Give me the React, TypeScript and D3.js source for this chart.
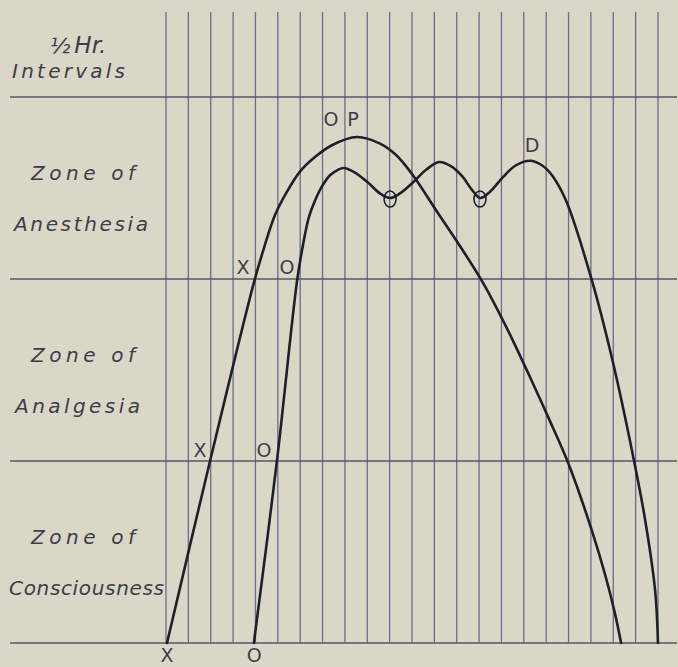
import React, { useEffect } from "react";
import * as d3 from "d3";

const WIDTH = 678;
const HEIGHT = 667;

// half-hour interval lines (index along the time axis)
const intervals = [0, 1, 2, 3, 4, 5, 6, 7, 8, 9, 10, 11, 12, 13, 14, 15, 16, 17, 18, 19, 20, 21, 22];
// zone boundaries: 0 = bottom of consciousness, 3 = top of anesthesia
const zoneLevels = [0, 1, 2, 3];

const zoneNames = [
  { top: 3, lines: ["Zone of", "Anesthesia"] },
  { top: 2, lines: ["Zone of", "Analgesia"] },
  { top: 1, lines: ["Zone of", "Consciousness"] },
];

// curve "X ... OP" : [interval, zone level]
const curveX: [number, number][] = [
  [0.045, 0], [1.97, 1.0], [3.93, 1.98], [4.38, 2.17], [4.87, 2.35], [5.41, 2.48],
  [5.99, 2.59], [6.66, 2.67], [7.42, 2.735], [8.54, 2.78], [9.55, 2.745],
  [10.3, 2.68], [11.04, 2.57], [12.12, 2.37], [13.15, 2.18], [14.17, 1.98],
  [15.2, 1.74], [16.28, 1.46], [17.13, 1.23], [17.98, 0.99], [19.09, 0.6],
  [19.67, 0.36], [20.08, 0.16], [20.35, 0],
];

// curve "O ... D"
const curveO: [number, number][] = [
  [3.93, 0], [4.96, 1.0], [5.86, 1.99], [6.13, 2.19], [6.39, 2.34], [6.66, 2.43],
  [6.98, 2.51], [7.33, 2.57], [7.69, 2.6], [7.95, 2.61], [8.45, 2.585], [9.03, 2.53],
  [9.57, 2.47], [10.02, 2.445], [10.46, 2.47], [11.04, 2.53], [11.63, 2.6],
  [12.21, 2.643], [12.74, 2.62], [13.24, 2.565], [13.68, 2.49], [14.04, 2.445],
  [14.49, 2.48], [15.07, 2.56], [15.65, 2.625], [16.28, 2.65], [16.81, 2.625],
  [17.26, 2.57], [17.89, 2.43], [19.05, 1.99], [19.99, 1.54], [20.93, 1.0],
  [21.42, 0.68], [21.87, 0.29], [22.0, 0],
];

// theta marks on the O curve
const thetaMarks: [number, number][] = [[10.02, 2.445], [14.04, 2.445]];

// letters along the curves: text, interval, level (baseline)
const pointLabels: [string, number, number][] = [
  ["X", 3.44, 2.03], ["O", 5.41, 2.03],
  ["X", 1.52, 1.02], ["O", 4.38, 1.02],
  ["X", 0.04, -0.105], ["O", 3.94, -0.105],
  ["O", 7.38, 2.84], ["P", 8.36, 2.84],
  ["D", 16.37, 2.7],
];

const labelFont = "'DejaVu Sans', sans-serif";
const textLen: Record<string, [number, number]> = {
  "Zone of": [31, 104],
  Anesthesia: [14, 134],
  Analgesia: [15, 125],
  Consciousness: [9, 155],
};

export default function App() {
  useEffect(() => {
    document.body.style.margin = "0";
  }, []);

  const x = d3.scaleLinear().domain([0, 22]).range([166, 658]);
  const y = d3.scaleLinear().domain([0, 3]).range([643, 97]);

  const line = d3
    .line<[number, number]>()
    .x((d) => x(d[0]))
    .y((d) => y(d[1]))
    .curve(d3.curveCatmullRom.alpha(0.5));

  const gridColor = "#6c6c88";
  const ink = "#1f1f2b";
  const textColor = "#3c3c4a";

  return (
    <svg width={WIDTH} height={HEIGHT} style={{ display: "block", background: "#dbd7c7" }}>
      {/* vertical half-hour lines */}
      {intervals.map((i) => (
        <line key={"v" + i} x1={x(i)} x2={x(i)} y1={12} y2={y(0)} stroke={gridColor} strokeWidth={1.3} />
      ))}
      {/* zone boundaries */}
      {zoneLevels.map((l) => (
        <line key={"h" + l} x1={10} x2={677} y1={y(l)} y2={y(l)} stroke="#55566c" strokeWidth={1.5} />
      ))}

      {/* header */}
      <text x={50} y={53} fontFamily={labelFont} fontStyle="italic" fill={textColor}>
        <tspan fontSize={21}>½</tspan>
        <tspan fontSize={23} dx={4}>Hr.</tspan>
      </text>
      <text x={12} y={78} fontFamily={labelFont} fontStyle="italic" fontSize={20} fill={textColor}
        textLength={113} lengthAdjust="spacing">
        Intervals
      </text>

      {/* zone names */}
      {zoneNames.map((z) =>
        z.lines.map((t, k) => (
          <text key={z.top + t} x={textLen[t][0]} y={y(z.top) + 83 + k * 51}
            fontFamily={labelFont} fontStyle="italic" fontSize={20} fill={textColor}
            textLength={textLen[t][1]} lengthAdjust="spacing">
            {t}
          </text>
        ))
      )}

      {/* curves */}
      <path d={line(curveX) || ""} fill="none" stroke={ink} strokeWidth={2.6} strokeLinecap="round" />
      <path d={line(curveO) || ""} fill="none" stroke={ink} strokeWidth={2.6} strokeLinecap="round" />

      {thetaMarks.map((d, k) => (
        <ellipse key={"t" + k} cx={x(d[0])} cy={y(d[1]) + 1} rx={6} ry={8} fill="none" stroke={ink} strokeWidth={1.6} />
      ))}

      {pointLabels.map((p, k) => (
        <text key={"p" + k} x={x(p[1])} y={y(p[2])} textAnchor="middle"
          fontFamily={labelFont} fontSize={19} fill={textColor}>
          {p[0]}
        </text>
      ))}
    </svg>
  );
}
